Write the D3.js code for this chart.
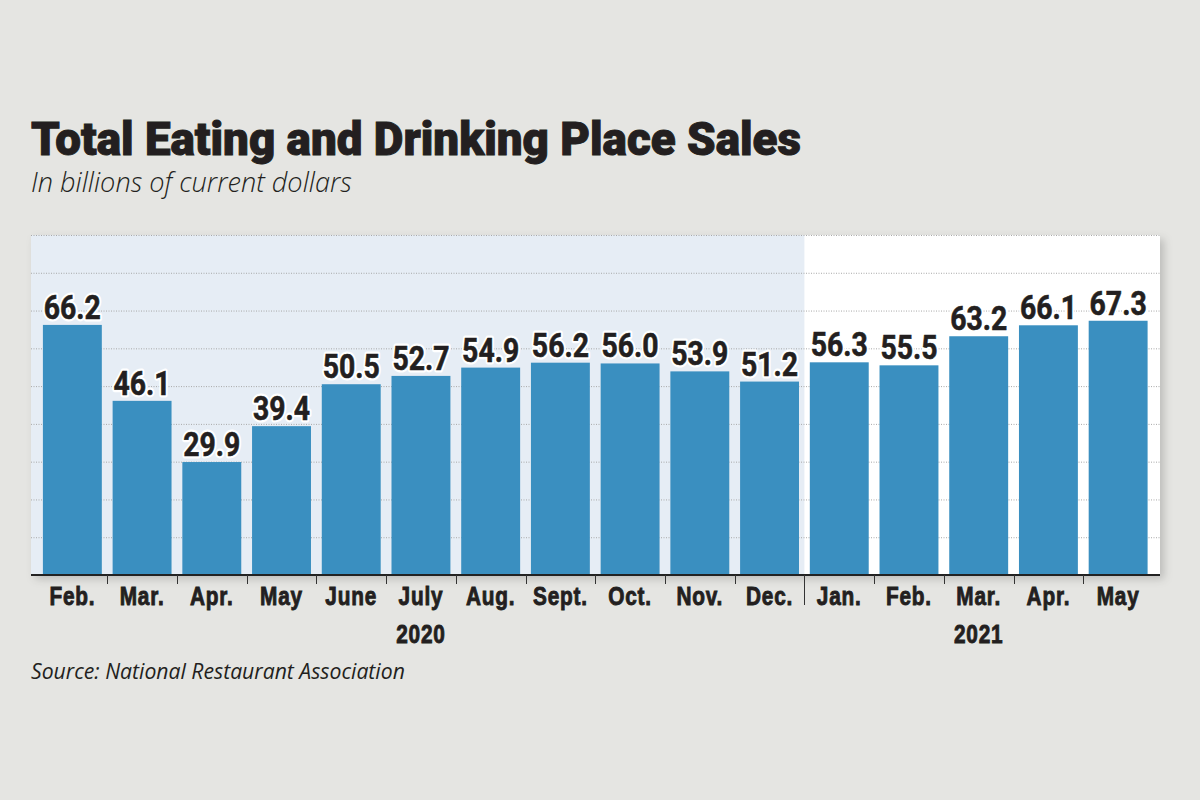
<!DOCTYPE html>
<html><head><meta charset="utf-8">
<script src="https://cdn.jsdelivr.net/npm/d3@7"></script>
<style>
html,body{margin:0;padding:0;background:#e5e5e2;}
svg{display:block;}
</style></head>
<body>
<svg id="c" width="1200" height="800"></svg>
<script>
const months = ["Feb.","Mar.","Apr.","May","June","July","Aug.","Sept.","Oct.","Nov.","Dec.","Jan.","Feb.","Mar.","Apr.","May"];
const years = ["2020","2020","2020","2020","2020","2020","2020","2020","2020","2020","2020","2021","2021","2021","2021","2021"];
const values = [66.2,46.1,29.9,39.4,50.5,52.7,54.9,56.2,56.0,53.9,51.2,56.3,55.5,63.2,66.1,67.3];
const yTicks = [0,10,20,30,40,50,60,70,80,90];
const yearLabels = ["2020","2021"];
const title = "Total Eating and Drinking Place Sales";
const subtitle = "In billions of current dollars";
const source = "Source: National Restaurant Association";

const svg = d3.select("#c");
const frame = {left:31, right:1160, top:235, bottom:575};
const idx = months.map((d,i)=>i);

const x = d3.scaleBand().domain(idx).range([37.5,1153]).paddingInner(0.155).paddingOuter(0.0775);
const y = d3.scaleLinear().domain([0,90]).range([frame.bottom, frame.top]);

const defs = svg.append("defs");
const f = defs.append("filter").attr("id","sh").attr("x","-5%").attr("y","-5%").attr("width","115%").attr("height","120%");
f.append("feDropShadow").attr("dx",4).attr("dy",4).attr("stdDeviation",4).attr("flood-color","#000").attr("flood-opacity",0.18);

svg.append("rect").attr("x",frame.left).attr("y",frame.top)
  .attr("width",frame.right-frame.left).attr("height",frame.bottom-frame.top)
  .attr("fill","#fff").attr("filter","url(#sh)");

const step = x.step();
const bandStart = i => x(i) - step*x.paddingInner()/2;
const split = bandStart(11);
svg.append("rect").attr("x",frame.left).attr("y",frame.top)
  .attr("width",split-frame.left).attr("height",frame.bottom-frame.top)
  .attr("fill","#e6edf5");

svg.append("g").selectAll("line").data(yTicks.slice(1)).join("line")
  .attr("x1",frame.left).attr("x2",frame.right)
  .attr("y1",d=>y(d)+0.5).attr("y2",d=>y(d)+0.5)
  .attr("stroke","#a8a8a8").attr("stroke-width",1).attr("stroke-dasharray","1,1.5");

svg.append("g").selectAll("rect").data(values).join("rect")
  .attr("x",(d,i)=>x(i)).attr("width",x.bandwidth())
  .attr("y",d=>y(d)).attr("height",d=>y(0)-y(d))
  .attr("fill","#3a8fc0");

svg.append("line").attr("x1",frame.left).attr("x2",frame.right)
  .attr("y1",frame.bottom).attr("y2",frame.bottom)
  .attr("stroke","#222").attr("stroke-width",2);

const tickIdx = idx.slice(1);
svg.append("g").selectAll("line").data(tickIdx).join("line")
  .attr("x1",i=>Math.round(bandStart(i))+0.5).attr("x2",i=>Math.round(bandStart(i))+0.5)
  .attr("y1",frame.bottom).attr("y2",i=> years[i]!==years[i-1] ? 605 : 584)
  .attr("stroke","#333").attr("stroke-width",1);

const narrowFont = "'Liberation Sans','Arial',sans-serif";
const sq = (cx, k) => `translate(${cx},0) scale(${k},1) translate(${-cx},0)`;

svg.append("g").selectAll("text").data(months).join("text")
  .attr("x",(d,i)=>x(i)+x.bandwidth()/2).attr("y",605)
  .attr("text-anchor","middle")
  .attr("font-family",narrowFont)
  .attr("font-weight","bold").attr("font-size",26).attr("letter-spacing",1)
  .attr("transform",(d,i)=>sq(x(i)+x.bandwidth()/2,0.8))
  .attr("fill","#231f20").attr("stroke","#231f20").attr("stroke-width",0.9).text(d=>d);

yearLabels.forEach(yr=>{
  const is = idx.filter(i=>years[i]===yr);
  const a = bandStart(is[0]), b = bandStart(is[is.length-1]) + step;
  const cx = (a+b)/2;
  svg.append("text").attr("x",cx).attr("y",643).attr("text-anchor","middle")
    .attr("font-family",narrowFont).attr("transform",sq(cx,0.8))
    .attr("font-weight","bold").attr("font-size",26).attr("letter-spacing",1)
    .attr("fill","#231f20").attr("stroke","#231f20").attr("stroke-width",0.9).text(yr);
});

const vg = svg.append("g");
const lbl = (sel)=>sel.attr("x",(d,i)=>x(i)+x.bandwidth()/2).attr("y",d=>y(d)-6)
  .attr("text-anchor","middle")
  .attr("font-family","Roboto,'Noto Sans',sans-serif")
  .attr("font-weight","bold").attr("font-size",33)
  .attr("transform",(d,i)=>sq(x(i)+x.bandwidth()/2,0.86))
  .text(d=>d.toFixed(1));
vg.selectAll("text.h").data(values).join("text").attr("class","h").call(lbl)
  .attr("fill","none").attr("stroke","#fff").attr("stroke-width",5).attr("stroke-linejoin","round");
vg.selectAll("text.v").data(values).join("text").attr("class","v").call(lbl)
  .attr("fill","#231f20").attr("stroke","#231f20").attr("stroke-width",0.6);

const t = svg.append("text").attr("x",31).attr("y",155)
  .attr("font-family","Roboto,'Noto Sans',sans-serif").attr("font-weight",900)
  .attr("font-size",46).attr("fill","#231f20").attr("stroke","#231f20").attr("stroke-width",1).text(title);
const tw = t.node().getComputedTextLength();
t.attr("font-size", 46*770/tw);

const s = svg.append("text").attr("x",31).attr("y",192)
  .attr("font-family","'Open Sans','Noto Sans',sans-serif").attr("font-style","italic").attr("font-weight",300)
  .attr("font-size",25).attr("fill","#231f20").text(subtitle);
const sw = s.node().getComputedTextLength();
s.attr("font-size", 25*321/sw);

const so = svg.append("text").attr("x",31).attr("y",679)
  .attr("font-family","'Open Sans','Noto Sans',sans-serif").attr("font-style","italic").attr("font-weight",400)
  .attr("font-size",21).attr("fill","#231f20").text(source);
const sow = so.node().getComputedTextLength();
so.attr("font-size", 21*374/sow);
</script>
</body></html>
